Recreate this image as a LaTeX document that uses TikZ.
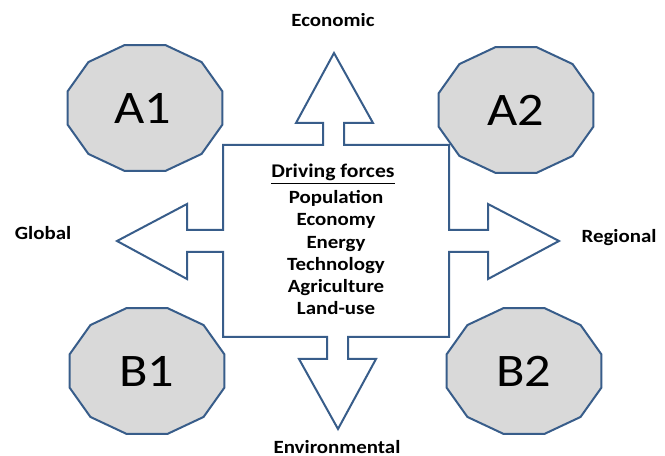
\documentclass[tikz,border=0pt]{standalone}
\usepackage{fontspec}
\setmainfont[FakeStretch=1.12]{Carlito}
\usetikzlibrary{positioning}
\definecolor{edgeblue}{RGB}{56,93,138}
\definecolor{scengray}{RGB}{217,217,217}
\tikzset{
  cross/.style={line width=1.5, draw=edgeblue, fill=white, line join=miter},
  scen/.style={line width=1.5, draw=edgeblue, fill=scengray, line join=miter},
  bigtext/.style={font=\fontsize{35}{42}\selectfont},
  lbl/.style={font=\fontsize{14}{16}\selectfont\bfseries, anchor=base, inner sep=0},
}
\begin{document}
\begin{tikzpicture}[x=0.75pt,y=0.75pt,yscale=-1,xscale=1]
\useasboundingbox (0,0) rectangle (665,456);

%Shape: Polygon (box with four arrows)
\draw [cross] (223,145) -- (323,145) -- (323,123) -- (296,123) -- (334,53) -- (373,123) -- (344,123) -- (344,145)
  -- (449,145) -- (449,230) -- (488,230) -- (488,204) -- (559,241) -- (488,279) -- (488,252) -- (449,252)
  -- (449,337) -- (348,337) -- (348,359) -- (376,359) -- (338,429) -- (299,359) -- (327,359) -- (327,337)
  -- (223,337) -- (223,252) -- (187,252) -- (187,279) -- (117,241) -- (187,204) -- (187,230) -- (223,230) -- cycle ;

%Shape: Dodecagons
\foreach \x/\y in {145/108, 516/110, 147/371, 524/371} {
  \draw [scen] (\x,\y) +(15:80 and 65) \foreach \a in {45,75,...,345} { -- +(\a:80 and 65) } -- cycle ;
}

% Text Node
\node [bigtext] (a1) at (143,108) {A1};
% Text Node
\node [bigtext] (a2) at (516,110) {A2};
% Text Node
\node [bigtext] (b1) at (147,371) {B1};
% Text Node
\node [bigtext] (b2) at (524,371) {B2};

% Text Node
\node [lbl] (econ) at (333,27) {Economic};
% Text Node
\node [lbl] (glob) at (43,240) {Global};
% Text Node
\node [lbl] (regi) at (619,243) {Regional};
% Text Node
\node [lbl] (envi) at (337,453) {Environmental};

% Text Node
\node [lbl, font=\fontsize{14.5}{16}\selectfont\bfseries] (forces) at (333,178) {\underline{Driving forces}};
\foreach \w [count=\i] in {Population,Economy,Energy,Technology,Agriculture,Land-use}
  \node [lbl] (force\i) at (336,{181.2+22.3*\i}) {\w};

\end{tikzpicture}
\end{document}
